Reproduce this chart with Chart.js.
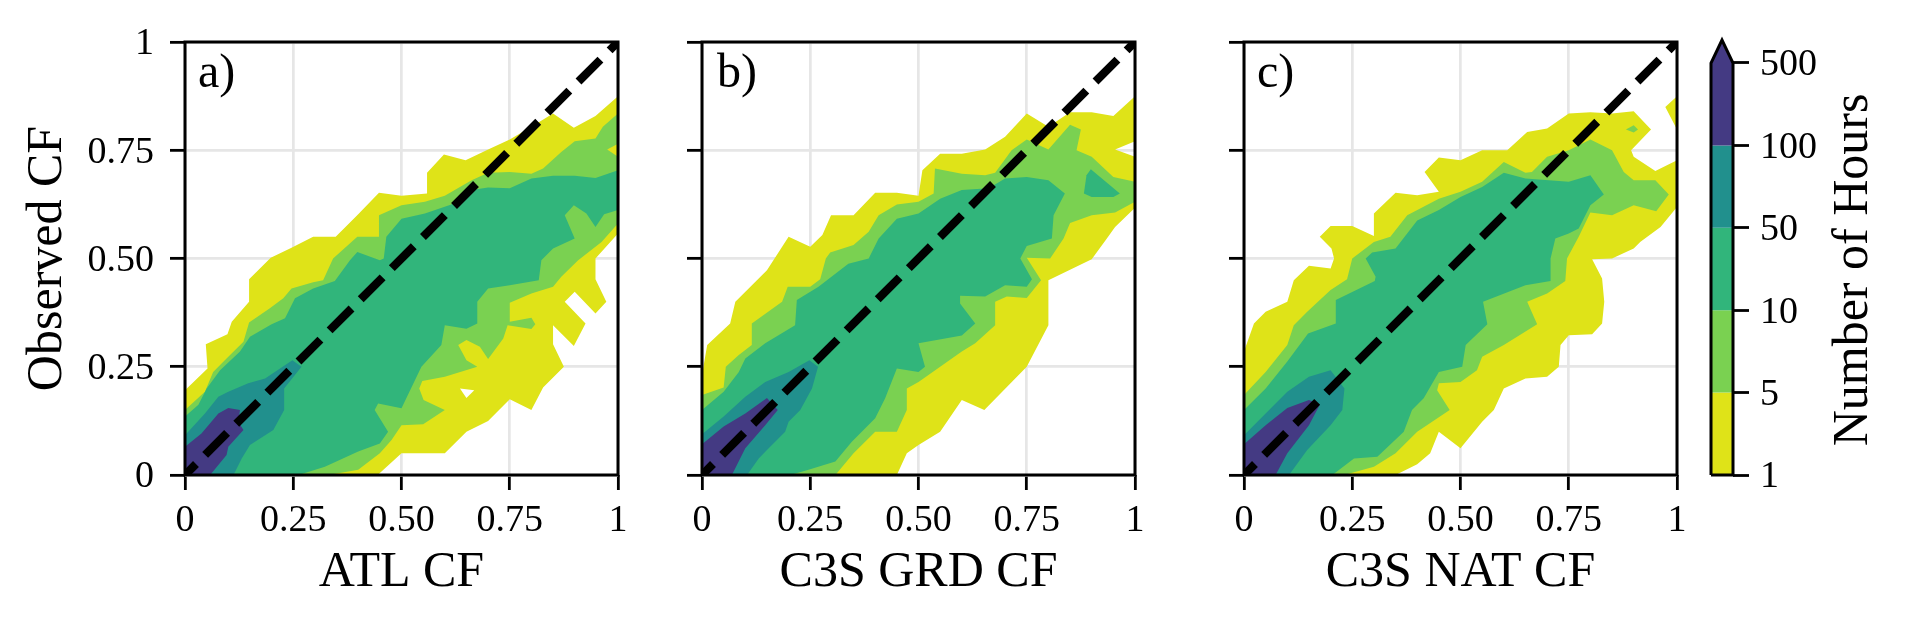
<!DOCTYPE html>
<html>
<head>
<meta charset="utf-8">
<style>
html,body{margin:0;padding:0;background:#fff;width:1906px;height:625px;overflow:hidden}
canvas{position:absolute;top:0}
</style>
<script src="https://cdn.jsdelivr.net/npm/chart.js@4"></script>
</head>
<body>
<canvas id="c1" width="660" height="625" style="left:0"></canvas>
<canvas id="c2" width="530" height="625" style="left:660px"></canvas>
<canvas id="c3" width="510" height="625" style="left:1190px"></canvas>
<canvas id="c4" width="206" height="625" style="left:1700px"></canvas>
<script>
const axisTickLabels = ['0','0.25','0.50','0.75','1'];
const colorbarLabels = ['1','5','10','50','100','500'];
const levelColors = ['#dfe318','#7ad151','#31b57b','#21908d','#443a83'];
const diagonal = [[0,0],[1,1]];

/* a) ATL CF : filled contour outlines, data units */
const atlLevel1 = [[0,.196],[.052,.246],[.048,.302],[.098,.325],[.108,.354],[.148,.40],[.148,.452],[.198,.502],[.246,.525],[.296,.55],[.348,.55],[.40,.602],[.448,.652],[.50,.645],[.559,.65],[.559,.698],[.598,.74],[.648,.727],[.70,.752],[.75,.775],[.80,.804],[.85,.835],[.898,.802],[.948,.829],[1,.875],[1,.558],[.948,.50],[.948,.452],[.973,.40],[.948,.373],[.90,.423],[.877,.40],[.925,.35],[.898,.298],[.85,.346],[.85,.302],[.875,.25],[.827,.202],[.80,.15],[.75,.175],[.70,.125],[.65,.10],[.60,.05],[.50,.05],[.445,0],[0,0]];
const atlHole = [[.635,.20],[.668,.196],[.65,.178]];
const atlLevel5 = [[0,.15],[.046,.192],[.065,.238],[.10,.273],[.135,.308],[.148,.352],[.196,.385],[.227,.408],[.246,.431],[.296,.445],[.319,.45],[.342,.50],[.398,.55],[.448,.55],[.448,.60],[.50,.623],[.554,.631],[.60,.645],[.662,.681],[.70,.698],[.75,.70],[.80,.696],[.827,.708],[.869,.746],[.90,.771],[.948,.777],[.965,.804],[1,.835],[1,.765],[.975,.752],[1,.735],[1,.581],[.962,.538],[.908,.496],[.869,.458],[.85,.435],[.80,.419],[.75,.398],[.75,.354],[.80,.363],[.809,.348],[.80,.337],[.745,.346],[.735,.315],[.70,.268],[.681,.296],[.65,.312],[.631,.30],[.65,.265],[.675,.25],[.60,.227],[.548,.217],[.541,.20],[.551,.173],[.60,.15],[.55,.117],[.50,.115],[.477,.081],[.45,.05],[.40,.012],[.331,0],[0,0]];
const atlLevel10 = [[0,.135],[.031,.162],[.05,.20],[.081,.242],[.127,.285],[.15,.319],[.20,.348],[.231,.362],[.254,.408],[.296,.431],[.346,.448],[.381,.496],[.398,.515],[.45,.496],[.459,.50],[.465,.55],[.50,.592],[.554,.604],[.615,.625],[.662,.658],[.70,.664],[.75,.662],[.80,.685],[.85,.691],[.90,.691],[.948,.686],[1,.704],[1,.612],[.968,.602],[.948,.573],[.927,.604],[.898,.623],[.877,.60],[.90,.546],[.85,.523],[.823,.496],[.817,.45],[.75,.438],[.70,.431],[.675,.40],[.675,.35],[.65,.338],[.60,.346],[.592,.30],[.546,.25],[.531,.219],[.50,.154],[.446,.165],[.438,.15],[.469,.10],[.45,.073],[.40,.054],[.323,.019],[.262,0],[0,0]];
const atlLevel50 = [[0,.092],[.046,.142],[.077,.181],[.10,.192],[.146,.212],[.185,.223],[.248,.265],[.269,.25],[.229,.20],[.229,.15],[.204,.104],[.15,.069],[.131,.038],[.112,0],[0,0]];
const atlLevel100 = [[0,.065],[.038,.096],[.077,.142],[.10,.155],[.127,.15],[.123,.123],[.135,.104],[.10,.065],[.096,.046],[.058,0],[0,0]];

/* b) C3S GRD CF */
const grdLevel1 = [[0,.231],[.012,.30],[.065,.35],[.077,.40],[.15,.473],[.20,.55],[.25,.527],[.278,.554],[.298,.60],[.35,.60],[.40,.652],[.45,.652],[.50,.645],[.509,.704],[.55,.742],[.60,.742],[.654,.752],[.70,.781],[.75,.835],[.80,.804],[.85,.838],[.90,.838],[.95,.829],[1,.875],[1,.771],[.954,.752],[1,.735],[1,.617],[.954,.573],[.935,.546],[.90,.498],[.80,.45],[.80,.346],[.75,.25],[.652,.15],[.60,.173],[.55,.10],[.50,.069],[.473,.05],[.45,0],[0,0]];
const grdLevel5 = [[0,.185],[.05,.202],[.055,.25],[.085,.277],[.115,.30],[.115,.35],[.185,.40],[.198,.435],[.25,.435],[.273,.452],[.286,.50],[.296,.514],[.35,.531],[.385,.562],[.408,.60],[.45,.625],[.50,.631],[.535,.65],[.538,.708],[.60,.696],[.654,.692],[.677,.698],[.715,.75],[.75,.775],[.80,.752],[.85,.809],[.875,.798],[.865,.75],[.90,.735],[.95,.688],[1,.677],[1,.631],[.954,.606],[.90,.60],[.85,.582],[.835,.546],[.804,.50],[.75,.502],[.783,.45],[.75,.409],[.704,.412],[.677,.40],[.677,.346],[.631,.304],[.60,.285],[.50,.215],[.473,.20],[.473,.15],[.45,.10],[.40,.10],[.35,.05],[.308,0],[0,0]];
const grdLevel10 = [[0,.15],[.05,.192],[.085,.238],[.10,.269],[.146,.304],[.215,.346],[.219,.404],[.269,.435],[.338,.488],[.385,.50],[.408,.546],[.45,.592],[.50,.604],[.55,.638],[.60,.658],[.662,.662],[.70,.685],[.75,.688],[.80,.681],[.838,.65],[.812,.60],[.808,.546],[.75,.529],[.735,.50],[.762,.452],[.75,.435],[.70,.438],[.654,.412],[.596,.414],[.596,.396],[.631,.35],[.60,.322],[.50,.304],[.515,.25],[.50,.238],[.45,.246],[.423,.177],[.40,.131],[.346,.077],[.308,.031],[.246,.012],[.204,0],[0,0]];
const grdIsland10 = [[.898,.706],[.965,.65],[.95,.642],[.90,.642],[.882,.65],[.888,.692]];
const grdLevel50 = [[0,.094],[.05,.135],[.10,.181],[.146,.215],[.20,.238],[.248,.265],[.268,.25],[.254,.20],[.227,.15],[.20,.123],[.192,.10],[.15,.058],[.131,.038],[.104,0],[0,0]];
const grdLevel100 = [[0,.071],[.05,.112],[.10,.142],[.15,.178],[.175,.15],[.146,.115],[.10,.062],[.069,0],[0,0]];

/* c) C3S NAT CF */
const natLevel1 = [[0,.285],[.023,.35],[.05,.377],[.10,.40],[.115,.45],[.15,.483],[.20,.477],[.208,.50],[.202,.523],[.175,.55],[.20,.575],[.25,.575],[.30,.552],[.30,.604],[.35,.652],[.40,.646],[.45,.654],[.417,.70],[.45,.733],[.50,.727],[.55,.75],[.608,.75],[.654,.792],[.70,.80],[.75,.835],[.80,.838],[.85,.835],[.90,.84],[.94,.798],[.894,.75],[.90,.735],[.95,.702],[1,.727],[1,.619],[.962,.573],[.915,.538],[.90,.523],[.85,.50],[.804,.498],[.827,.454],[.832,.40],[.827,.35],[.804,.325],[.75,.323],[.731,.30],[.727,.25],[.70,.227],[.65,.223],[.60,.20],[.577,.15],[.55,.123],[.50,.062],[.45,.10],[.43,.05],[.40,.025],[.35,0],[0,0]];
const natCorner1 = [[.973,.85],[1,.875],[1,.798]];
const natLevel5 = [[0,.185],[.05,.238],[.10,.30],[.115,.346],[.146,.377],[.20,.427],[.238,.452],[.25,.50],[.30,.538],[.338,.55],[.377,.60],[.45,.638],[.50,.654],[.55,.677],[.60,.723],[.65,.698],[.665,.70],[.70,.735],[.75,.75],[.80,.775],[.85,.75],[.877,.70],[.90,.681],[.95,.681],[.981,.648],[.952,.609],[.90,.623],[.85,.60],[.80,.606],[.773,.55],[.746,.50],[.742,.448],[.70,.419],[.654,.40],[.677,.348],[.60,.30],[.55,.273],[.538,.242],[.50,.215],[.45,.212],[.446,.196],[.475,.15],[.40,.10],[.35,.05],[.30,.019],[.231,0],[0,0]];
const natIsland5 = [[.882,.798],[.90,.808],[.91,.798],[.90,.791]];
const natLevel10 = [[0,.15],[.05,.20],[.10,.262],[.148,.327],[.212,.35],[.212,.404],[.302,.448],[.304,.458],[.281,.50],[.296,.514],[.35,.523],[.40,.588],[.45,.612],[.50,.642],[.55,.665],[.60,.698],[.65,.685],[.75,.677],[.80,.692],[.831,.648],[.80,.623],[.773,.569],[.75,.558],[.719,.546],[.708,.50],[.708,.448],[.65,.438],[.552,.40],[.562,.348],[.512,.30],[.504,.25],[.45,.238],[.415,.177],[.388,.15],[.369,.10],[.308,.042],[.254,.038],[.204,0],[0,0]];
const natLevel50 = [[0,.092],[.05,.142],[.10,.192],[.15,.227],[.20,.242],[.232,.20],[.227,.15],[.20,.115],[.146,.058],[.104,0],[0,0]];
const natLevel100 = [[0,.071],[.05,.115],[.10,.155],[.15,.173],[.175,.162],[.15,.115],[.10,.05],[.073,0],[0,0]];

const SERIF = '"Liberation Serif"';
const pts = a => a.map(p => ({x:p[0], y:p[1]}));
function poly(data, color, order){
  return {data:pts(data), showLine:true, fill:'shape', tension:0, backgroundColor:color,
          borderColor:color, borderWidth:0, pointRadius:0, pointHoverRadius:0, clip:0, order};
}
function buildPanel(id, tag, tagLeft, xTitle, yTitle, axisWidth, rightPad, layers){
  const ds = layers.map((l,i)=>poly(l[0], l[1], 100-i));
  ds.push({data:pts(diagonal), showLine:true, fill:false, borderColor:'#000', borderWidth:8.3,
           borderDash:[31,13], borderDashOffset:15.5, borderCapStyle:'butt', pointRadius:0, clip:0, order:0});
  new Chart(document.getElementById(id), {
    type:'scatter',
    data:{datasets:ds},
    options:{
      responsive:false, animation:false, devicePixelRatio:1,
      layout:{padding:{left:0,top:42,right:rightPad,bottom:0}},
      plugins:{legend:{display:false}, tooltip:{enabled:false}},
      scales:{
        x:{type:'linear',min:0,max:1,
           afterFit(s){s.height=150;},
           grid:{color:'#e6e6e6',lineWidth:2.7,tickColor:'#000',tickWidth:2.8,tickLength:15},
           border:{display:false},
           ticks:{stepSize:.25,autoSkip:false,maxRotation:0,color:'#000',padding:8,
                  font:{family:SERIF,size:38},callback:(v,i)=>axisTickLabels[i]},
           title:{display:true,text:xTitle,color:'#000',font:{family:SERIF,size:50},padding:{top:0,bottom:22.4}}},
        y:{type:'linear',min:0,max:1,
           afterFit(s){s.width=axisWidth;},
           grid:{color:'#e6e6e6',lineWidth:2.7,tickColor:'#000',tickWidth:2.8,tickLength:15},
           border:{display:false},
           ticks:{stepSize:.25,autoSkip:false,color:'#000',padding:16,labelOffset:2.5,
                  font:{family:SERIF,size:38},callback:(v,i)=>yTitle?axisTickLabels[i]:''},
           title:{display:!!yTitle,text:yTitle,color:'#000',font:{family:SERIF,size:50},padding:{top:17.4,bottom:0}}}
      }
    },
    plugins:[{id:'frame',afterDatasetsDraw(c){
      const a=c.chartArea,x=c.ctx;
      x.save();x.strokeStyle='#000';x.lineWidth=3;
      x.strokeRect(a.left,a.top,a.right-a.left,a.bottom-a.top);
      x.fillStyle='#000';x.font='48px '+SERIF;x.textBaseline='alphabetic';x.textAlign='left';
      x.fillText(tag,a.left+tagLeft,87);
      x.restore();
    }}]
  });
}
const C = levelColors;
buildPanel('c1','a)',13,'ATL CF','Observed CF',185,42,[[atlLevel1,C[0]],[atlHole,'#fff'],[atlLevel5,C[1]],[atlLevel10,C[2]],[atlLevel50,C[3]],[atlLevel100,C[4]]]);
buildPanel('c2','b)',15,'C3S GRD CF','',42,55,[[grdLevel1,C[0]],[grdLevel5,C[1]],[grdLevel10,C[2]],[grdIsland10,C[2]],[grdLevel50,C[3]],[grdLevel100,C[4]]]);
buildPanel('c3','c)',13,'C3S NAT CF','',54,23,[[natLevel1,C[0]],[natCorner1,C[0]],[natLevel5,C[1]],[natIsland5,C[1]],[natLevel10,C[2]],[natLevel50,C[3]],[natLevel100,C[4]]]);

/* colour bar: one band per level, plus the extension triangle on the top band */
const tipHeight = 0.279;
const bands = levelColors.map((col,i)=> i<4
  ? poly([[0,i],[1,i],[1,i+1],[0,i+1]], col, 100-i)
  : poly([[0,i],[1,i],[1,i+1],[.5,i+1+tipHeight],[0,i+1]], col, 100-i));
bands.push({data:pts([[0,0],[1,0],[1,5],[.5,5+tipHeight],[0,5],[0,0]]), showLine:true, fill:false,
            borderColor:'#000', borderWidth:3, pointRadius:0, clip:false, order:0});
new Chart(document.getElementById('c4'), {
  type:'scatter',
  data:{datasets:bands},
  options:{
    responsive:false, animation:false, devicePixelRatio:1,
    layout:{padding:{left:11,top:40,right:0,bottom:150}},
    plugins:{legend:{display:false}, tooltip:{enabled:false}},
    scales:{
      x:{type:'linear',min:0,max:1,display:false},
      y:{type:'linear',position:'right',min:0,max:5+tipHeight,
         afterFit(s){s.width=173;},
         grid:{drawOnChartArea:false,tickColor:'#000',tickWidth:2.8,tickLength:16},
         border:{display:false},
         ticks:{stepSize:1,includeBounds:false,autoSkip:false,color:'#000',padding:11,crossAlign:'near',labelOffset:2.5,
                font:{family:SERIF,size:38},callback:(v,i)=>colorbarLabels[i]}
      }
    }
  },
  plugins:[{id:'cbTitle',afterDraw(c){
    const x=c.ctx;
    x.save();x.translate(154,270);x.rotate(-Math.PI/2);
    x.fillStyle='#000';x.font='50px '+SERIF;x.textAlign='center';x.textBaseline='middle';
    x.fillText('Number of Hours',0,0);
    x.restore();
  }}]
});
</script>
</body>
</html>
